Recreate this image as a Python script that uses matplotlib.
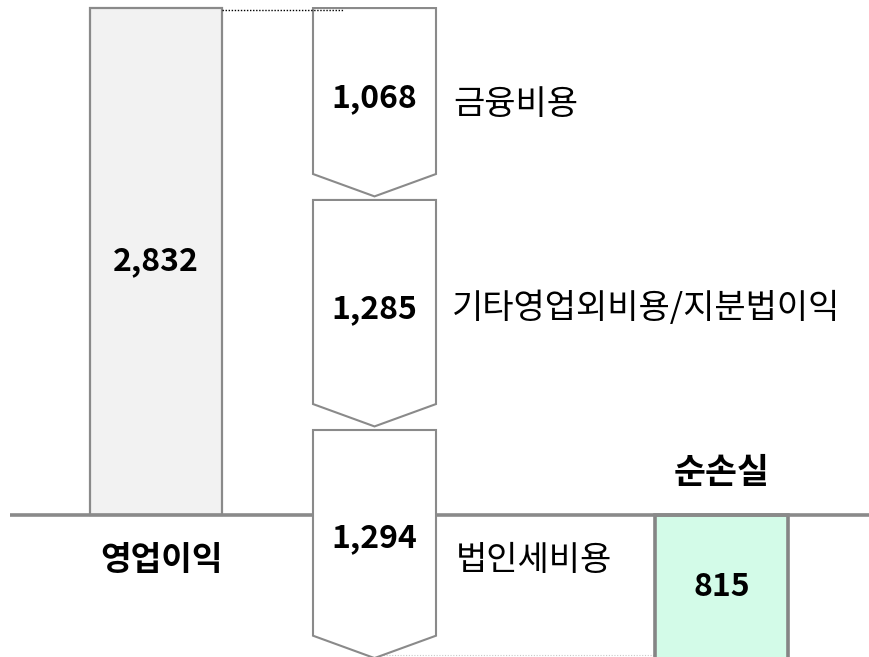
import matplotlib
matplotlib.use("Agg")
import matplotlib.pyplot as plt
from matplotlib.patches import Polygon

plt.rcParams['font.family'] = ['Noto Sans CJK KR', 'DejaVu Sans']

# data
op_label = "영업이익"
op_value = 2832
cost_labels = ["금융비용", "기타영업외비용/지분법이익", "법인세비용"]
cost_values = [1068, 1285, 1294]
net_label = "순손실"
net_value = op_value - sum(cost_values)   # -815

fig = plt.figure(figsize=(8.69, 6.57), dpi=100)
ax = fig.add_axes([0, 0, 1, 1])
ax.set_xlim(0, 869)
ax.set_ylim(-793, 2877)
ax.axis('off')

edge = '#8a8a8a'
fs = 23      # numbers
fs_kr = 24.5  # korean labels

# operating profit bar
ax.bar(156, op_value, width=132, bottom=0, color='#f2f2f2',
       edgecolor=edge, linewidth=1.6, zorder=2)
ax.text(156, op_value / 2, f"{op_value:,}", ha='center', va='center',
        fontsize=fs, fontweight='bold', zorder=5)
ax.text(162, -255, op_label, ha='center', va='center',
        fontsize=24, fontweight='bold')

# dotted connector from top of bar
ax.plot([222, 343], [op_value - 10, op_value - 10], color='black',
        linestyle=(0, (1, 1.2)), linewidth=1.0, zorder=6)

# downward arrows for costs
xc, w = 374.5, 123
tip_h = 125
label_x = [453, 452, 456]
label_dy = [-40, 0, -125]
start = op_value
for i, (lab, v) in enumerate(zip(cost_labels, cost_values)):
    top = start - (0 if i == 0 else 4)
    tip = start - v + 16
    pts = [(xc - w / 2, top), (xc + w / 2, top), (xc + w / 2, tip + tip_h),
           (xc, tip), (xc - w / 2, tip + tip_h)]
    ax.add_patch(Polygon(pts, closed=True, facecolor='white',
                         edgecolor=edge, linewidth=1.5, zorder=3))
    mid = (top + tip) / 2
    ny = mid + 25 if i < 2 else -130
    ax.text(xc, ny, f"{v:,}", ha='center', va='center',
            fontsize=fs, fontweight='bold', zorder=5)
    ax.text(label_x[i], ny + label_dy[i], lab, ha='left', va='center',
            fontsize=fs_kr)
    start -= v

# baseline
ax.plot([10, 869], [0, 0], color='#8a8a8a', linewidth=2.6, zorder=2.5,
        solid_capstyle='butt')

# net loss bar
ax.bar(721.5, net_value, width=133, bottom=0, color='#d3fbe8',
       edgecolor='#858585', linewidth=2.6, zorder=2)
ax.text(721.5, -400, f"{abs(net_value):,}", ha='center',
        va='center', fontsize=fs, fontweight='bold', zorder=5)
ax.text(721.5, 235, net_label, ha='center', va='center',
        fontsize=25, fontweight='bold')

# light dotted line at the bottom
ax.plot([375, 655], [-782, -782], color='#c8c8c8',
        linestyle=(0, (1, 1.5)), linewidth=0.8, zorder=1)

fig.savefig("out.png", dpi=100)
